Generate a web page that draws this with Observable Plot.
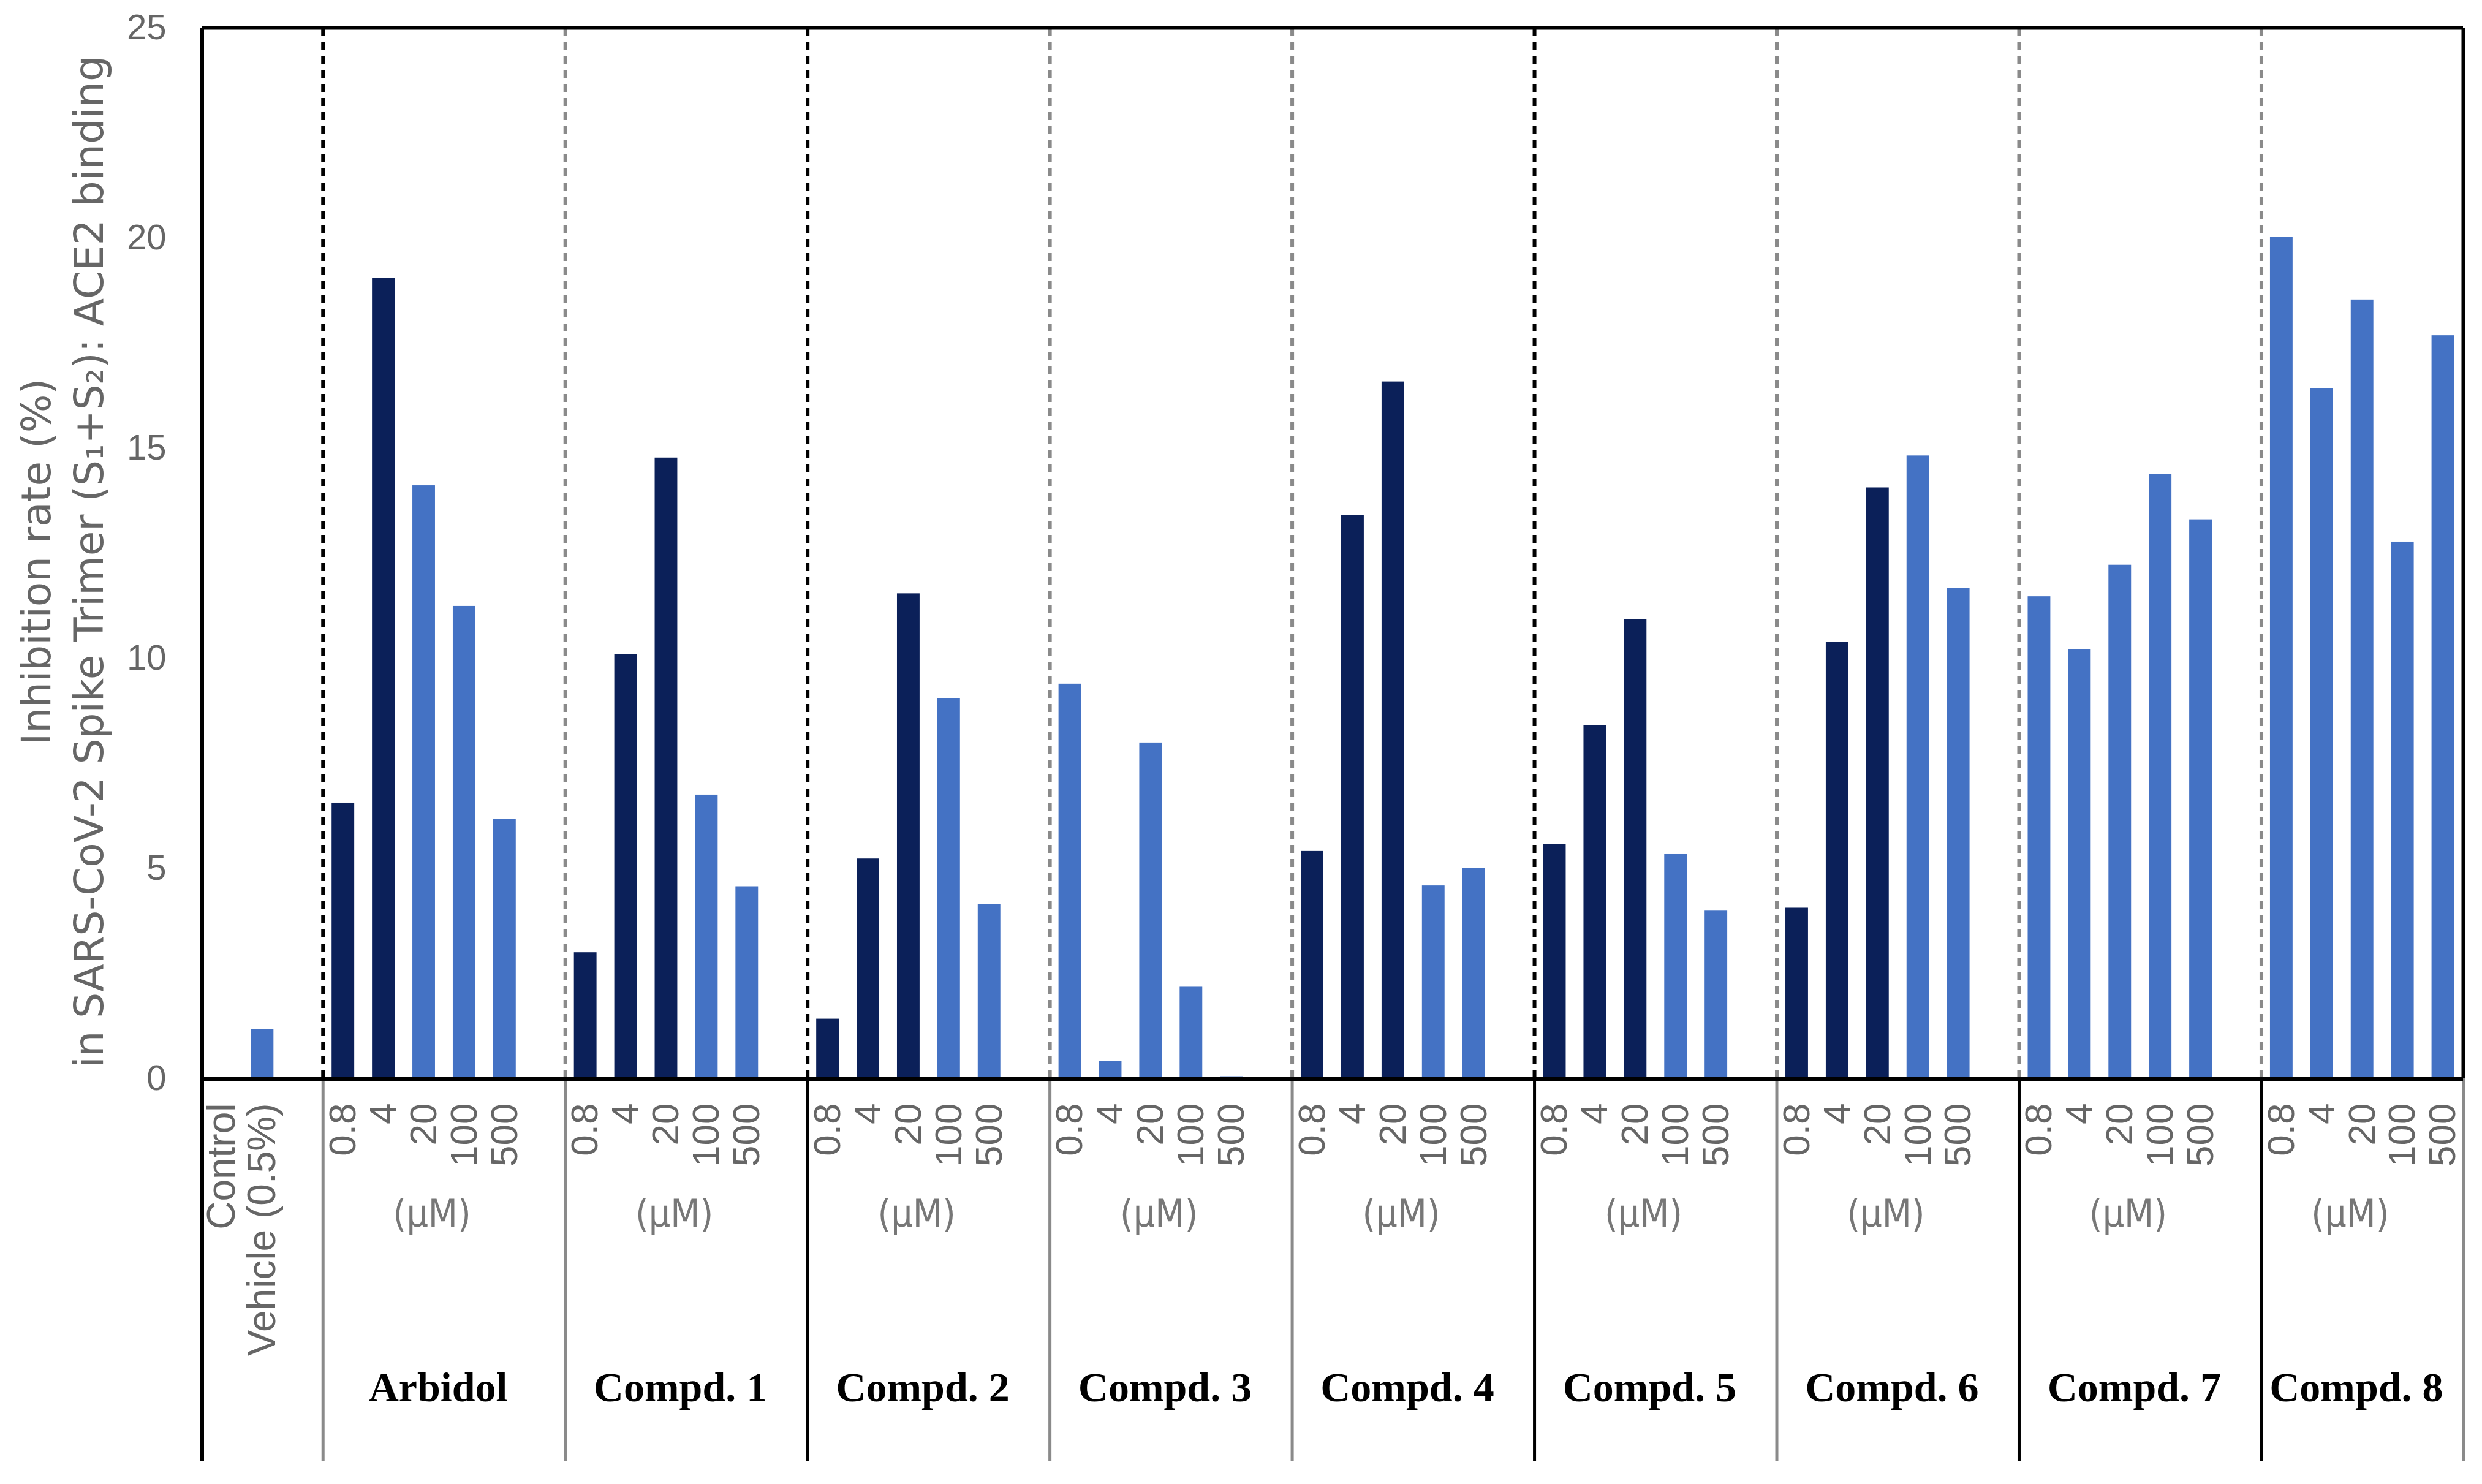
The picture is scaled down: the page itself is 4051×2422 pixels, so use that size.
<!DOCTYPE html>
<html>
<head>
<meta charset="utf-8">
<script src="https://cdn.jsdelivr.net/npm/d3@7"></script>
<script src="https://cdn.jsdelivr.net/npm/@observablehq/plot@0.6"></script>
<style>
  html, body { margin: 0; padding: 0; background: #ffffff; }
  #chart svg { display: block; }
</style>
</head>
<body>
<div id="chart"></div>
<script>
// ---------------- data ----------------
const groups = ["Arbidol", "Compd. 1", "Compd. 2", "Compd. 3", "Compd. 4", "Compd. 5", "Compd. 6", "Compd. 7", "Compd. 8"];
const concentrations = ["0.8", "4", "20", "100", "500"];
const unitLabel = "(\u03bcM)";
const controlLabel = ["Control", "Vehicle (0.5%)"];
const controlValue = 1.18;
const arbidol = [6.56, 19.04, 14.11, 11.24, 6.17];
const compd1 = [3.0, 10.1, 14.77, 6.75, 4.57];
const compd2 = [1.42, 5.23, 11.54, 9.04, 4.15];
const compd3 = [9.39, 0.42, 7.99, 2.18, 0.05];
const compd4 = [5.41, 13.41, 16.58, 4.59, 5.0];
const compd5 = [5.57, 8.41, 10.93, 5.35, 3.99];
const compd6 = [4.06, 10.39, 14.06, 14.82, 11.67];
const compd7 = [11.47, 10.21, 12.22, 14.38, 13.3];
const compd8 = [20.02, 16.42, 18.53, 12.77, 17.68];
const darkBarsPerGroup = [2, 3, 3, 0, 3, 3, 3, 0, 0]; // leading dark bars in each group
const yTicks = [0, 5, 10, 15, 20, 25];
const yTitle = "Inhibition rate (%)\nin SARS-CoV-2 Spike Trimer (S\u2081+S\u2082): ACE2 binding";

// ---------------- styles ----------------
const DARK = "#0b2059";
const LIGHT = "#4472c4";
const GREY_TEXT = "#666666";
const dividerAbove = ["black", "grey", "black", "grey", "grey", "black", "grey", "grey", "grey"];
const dividerBelow = ["black", "grey", "grey", "black", "grey", "grey", "black", "grey", "black", "black", "grey"];
const colorOf = k => (k === "black" ? "#000000" : "#8a8a8a");

// ---------------- layout of slots ----------------
const seriesValues = [arbidol, compd1, compd2, compd3, compd4, compd5, compd6, compd7, compd8];
const controlSlots = 3, groupSlots = 6;
const totalSlots = controlSlots + groups.length * groupSlots - 1;
const groupStart = g => controlSlots + g * groupSlots;
const groupSpan = g => (g === groups.length - 1 ? groupSlots - 1 : groupSlots);

const bars = [{slot: 1, value: controlValue, dark: false}];
const ticks = [];
seriesValues.forEach((vals, g) => {
  vals.forEach((v, k) => {
    bars.push({slot: groupStart(g) + k, value: v, dark: k < darkBarsPerGroup[g]});
    ticks.push({slot: groupStart(g) + k, label: concentrations[k]});
  });
});
const aboveRules = groups.map((name, g) => ({x: groupStart(g), kind: dividerAbove[g]}));
const belowRules = [0, ...groups.map((n, g) => groupStart(g)), totalSlots].map((x, i) => ({x, kind: dividerBelow[i]}));

const W = 4051, H = 2422;
const mTop = 45, mBottom = 662, mLeft = 329, mRight = 31;
const plotH = H - mTop - mBottom;
const below = 625;

const chart = Plot.plot({
  width: W,
  height: H,
  marginTop: mTop,
  marginBottom: mBottom,
  marginLeft: mLeft,
  marginRight: mRight,
  style: {fontFamily: "'Liberation Sans', Arial, sans-serif", fontSize: "56px", background: "#ffffff", color: GREY_TEXT},
  x: {type: "linear", domain: [0, totalSlots], axis: null},
  y: {domain: [0, 25], ticks: yTicks, axis: null},
  marks: [
    // bars
    Plot.rectY(bars, {x1: d => d.slot, x2: d => d.slot + 1, y: "value", fill: d => (d.dark ? DARK : LIGHT), insetLeft: 14.5, insetRight: 14.5}),
    // dashed dividers inside plot
    Plot.ruleX(aboveRules, {x: "x", stroke: d => colorOf(d.kind), strokeWidth: 6, strokeDasharray: "13,10"}),
    // dividers below axis
    Plot.ruleX(belowRules, {x: "x", stroke: d => colorOf(d.kind), strokeWidth: 5, insetTop: plotH, insetBottom: -below}),
    // frame lines
    Plot.ruleX([0], {stroke: "#000", strokeWidth: 7, insetBottom: -below}),
    Plot.ruleX([totalSlots], {stroke: "#000", strokeWidth: 6}),
    Plot.ruleY([25], {stroke: "#000", strokeWidth: 6}),
    Plot.ruleY([0], {stroke: "#000", strokeWidth: 7}),
    // y axis
    Plot.axisY({ticks: yTicks, tickSize: 0, tickPadding: 58, fontSize: 58, fill: GREY_TEXT, label: null}),
    Plot.text([yTitle], {frameAnchor: "left", dx: -232, dy: 14, rotate: -90, textAnchor: "middle", lineAnchor: "middle", lineHeight: 1.3, fontSize: 66, fontFamily: "'DejaVu Sans', sans-serif", fill: GREY_TEXT}),
    // concentration tick labels
    Plot.text(ticks, {x: d => d.slot + 0.5, text: "label", frameAnchor: "bottom", dy: 40, rotate: -90, textAnchor: "end", lineAnchor: "middle", fontSize: 62, fill: GREY_TEXT}),
    // control labels
    Plot.text(controlLabel, {x: (d, i) => i + 0.5, text: d => d, frameAnchor: "bottom", dy: 40, rotate: -90, textAnchor: "end", lineAnchor: "middle", fontSize: 64, fill: GREY_TEXT}),
    // unit labels
    Plot.text(groups, {x: (d, i) => groupStart(i) + groupSpan(i) / 2 - 0.3, text: () => unitLabel, frameAnchor: "bottom", dy: 222, lineAnchor: "middle", fontSize: 62, fontFamily: "'Liberation Sans Narrow', 'DejaVu Sans Condensed', sans-serif", fill: "#777777"}),
    // group labels
    Plot.text(groups, {x: (d, i) => groupStart(i) + groupSpan(i) / 2 - 0.15, text: d => d, frameAnchor: "bottom", dy: 505, lineAnchor: "middle", fontSize: 68, fontWeight: "bold", fontFamily: "'Liberation Serif', 'Times New Roman', serif", fill: "#000000"})
  ]
});
document.getElementById("chart").appendChild(chart);
</script>
</body>
</html>
